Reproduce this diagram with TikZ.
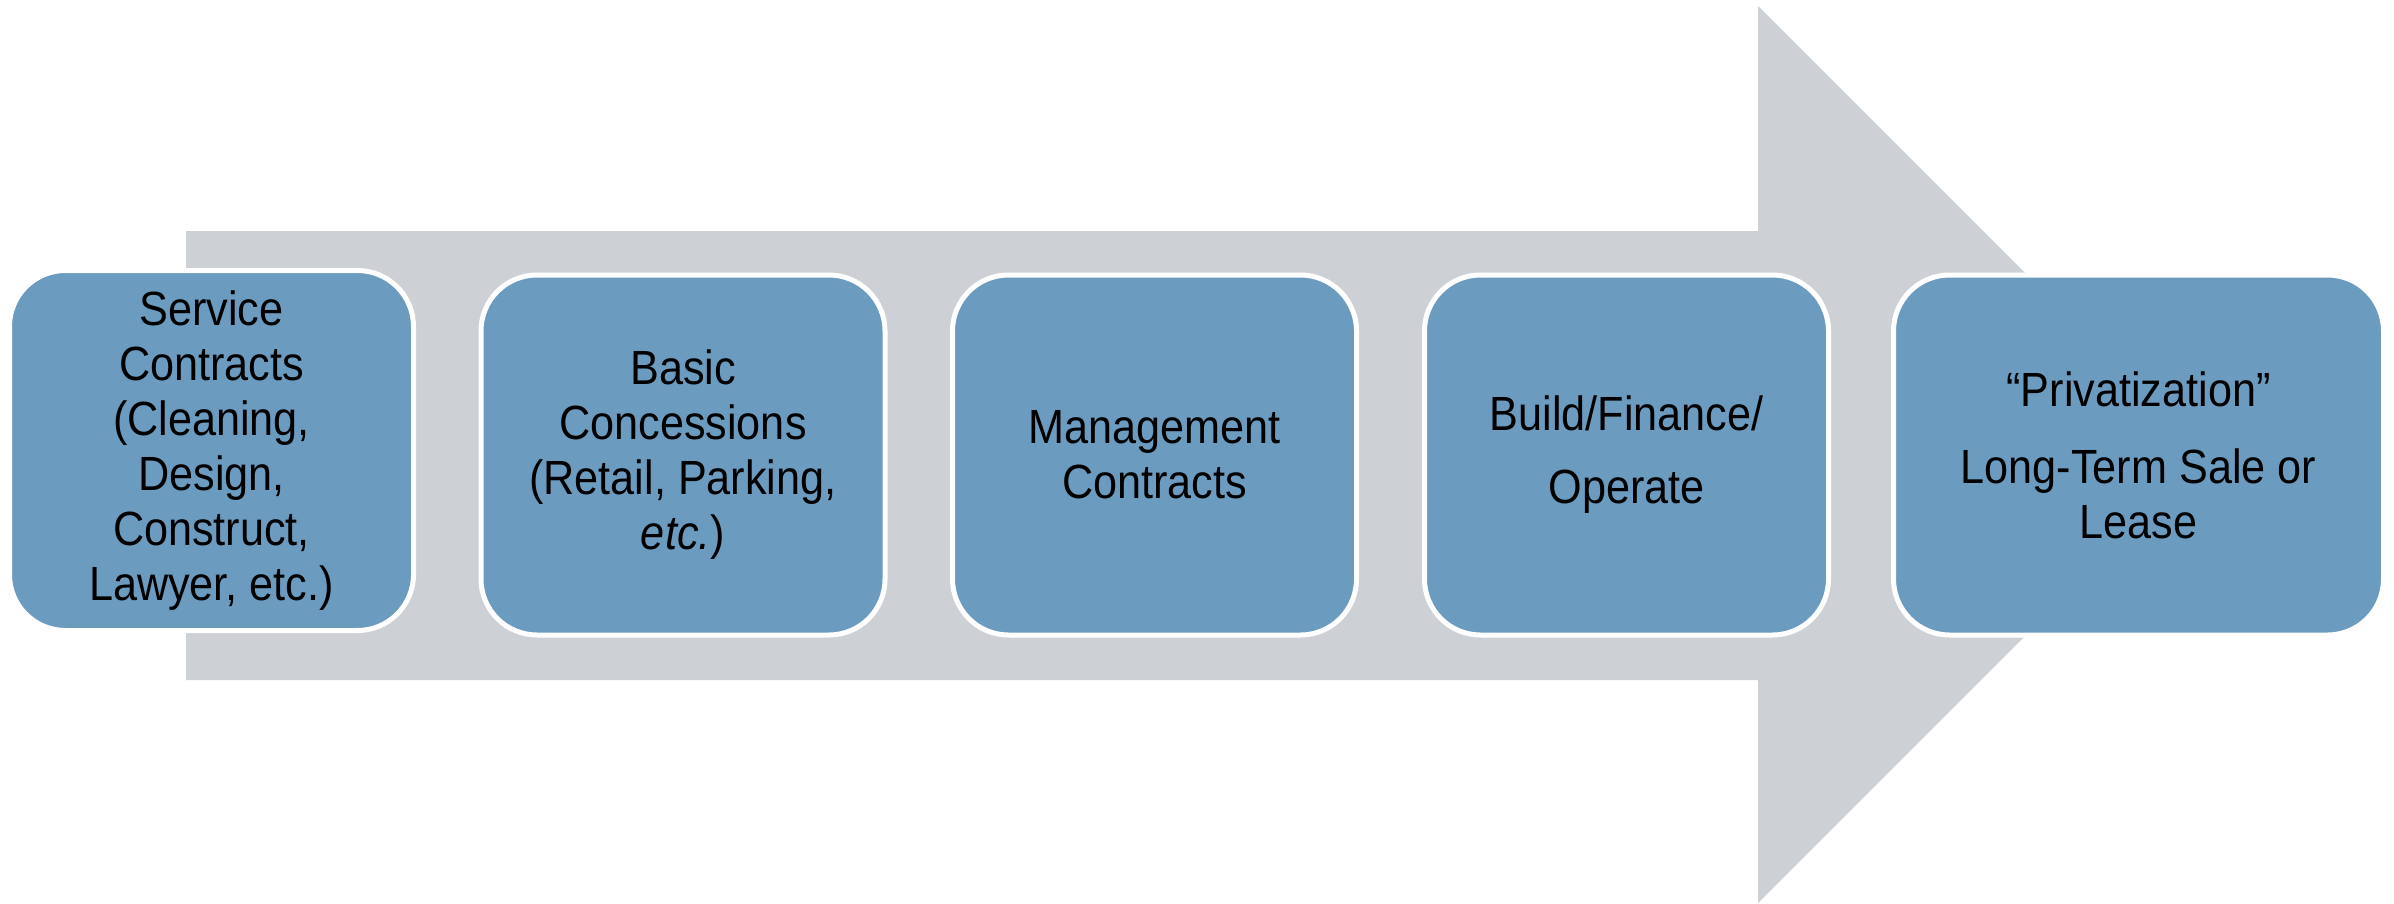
\documentclass[tikz,border=0pt]{standalone}
\usepackage{fontspec}
\setmainfont{Liberation Sans}[FakeStretch=0.9]
\definecolor{boxblue}{HTML}{6C9BC0}
\definecolor{arrowgray}{HTML}{CDD1D6}
\tikzset{
  stagebox/.style={rectangle, rounded corners=28pt, fill=boxblue, draw=white,
    line width=2.5pt, minimum width=202pt, minimum height=180pt, inner sep=0pt,
    align=center, text=black, font=\fontsize{24pt}{27.5pt}\selectfont},
}
\begin{document}
\begin{tikzpicture}[x=0.5pt,y=-0.5pt]
\useasboundingbox (0,0) rectangle (2394,904);
% big arrow
\fill[arrowgray] (186,231) -- (1758,231) -- (1758,6) -- (2206.5,454.5) -- (1758,903) -- (1758,680) -- (186,680) -- cycle;
% boxes
\node[stagebox] (s1) at (211.5,450.5) {Service\\Contracts\\(Cleaning,\\Design,\\Construct,\\Lawyer, etc.)};
\node[stagebox] (s2) at (683,455) {Basic\\Concessions\\(Retail, Parking,\\\textit{etc.})};
\node[stagebox] (s3) at (1154.5,455) {Management\\Contracts};
\node[stagebox] (s4) at (1626.5,455) {Build/Finance/\\[9pt]Operate};
\node[stagebox, minimum width=245pt] (s5) at (2138.5,455) {“Privatization”\\[11pt]Long-Term Sale or\\Lease};
\end{tikzpicture}
\end{document}
